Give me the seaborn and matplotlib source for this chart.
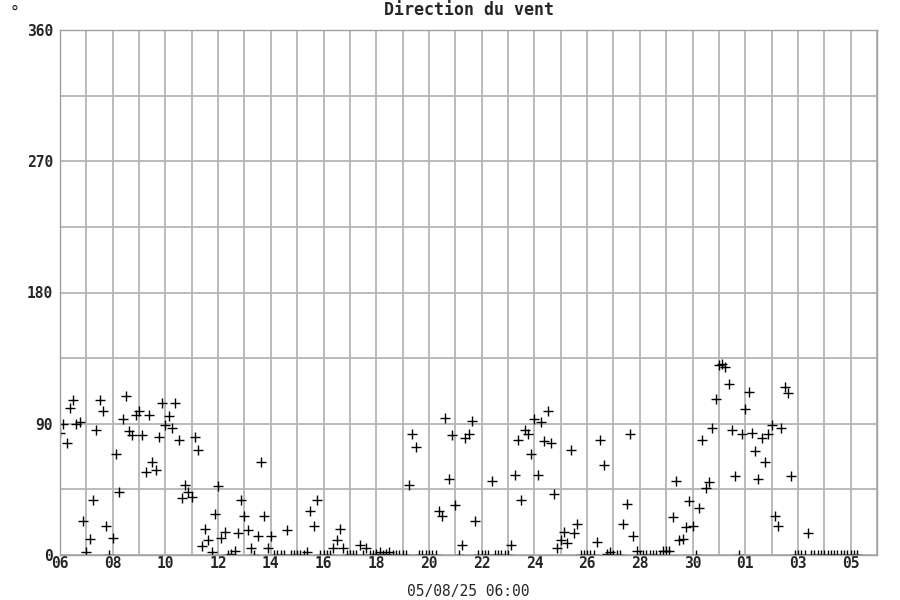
import matplotlib
matplotlib.use("Agg")
import matplotlib.pyplot as plt
import matplotlib.dates as mdates
import pandas as pd
import seaborn as sns

# wind direction (degrees), one reading every 3 hours, 06/07 00:00 -> 05/08 06:00
jul06 = [84, 90, 77, 101, 106, 90, 91, 23]
jul07 = [2, 11, 38, 86, 106, 99, 20, 0]
jul08 = [12, 69, 43, 93, 109, 85, 82, 96]
jul09 = [99, 82, 57, 96, 64, 58, 81, 104]
jul10 = [89, 95, 87, 104, 79, 39, 48, 43]
jul11 = [40, 81, 72, 6, 18, 10, 2, 28]
jul12 = [47, 12, 16, 0, 1, 3, 15, 38]
jul13 = [27, 17, 5, 0, 13, 64, 27, 5]
jul14 = [13, 0, 0, 0, 0, 17, 0, 0]
jul15 = [0, 0, 0, 2, 30, 20, 38, 0]
jul16 = [0, 0, 0, 5, 10, 18, 5, 0]
jul17 = [0, 0, 0, 7, 0, 5, 0, 0]
jul18 = [1, 2, 0, 1, 2, 0, 0, 0]
jul19 = [0, 0, 48, 83, 74, 0, 0, 0]
jul20 = [0, 0, 0, 30, 27, 94, 52, 82]
jul21 = [34, 0, 7, 80, 83, 92, 23, 0]
jul22 = [0, 0, 0, 51, 0, 0, 0, 0]
jul23 = [0, 7, 55, 79, 38, 86, 83, 69]
jul24 = [93, 55, 91, 78, 99, 77, 42, 5]
jul25 = [10, 16, 8, 72, 15, 21, 0, 0]
jul26 = [0, 0, 0, 9, 79, 62, 1, 2]
jul27 = [0, 0, 0, 21, 35, 83, 13, 3]
jul28 = [0, 0, 0, 0, 0, 0, 0, 3]
jul29 = [3, 3, 26, 51, 10, 11, 19, 37]
jul30 = [20, 0, 32, 79, 46, 50, 87, 107]
jul31 = [130, 131, 129, 117, 86, 54, 0, 83]
aug01 = [100, 112, 84, 71, 52, 80, 64, 83]
aug02 = [89, 27, 20, 87, 115, 111, 54, 0]
aug03 = [0, 0, 0, 15, 0, 0, 0, 0]
aug04 = [0, 0, 0, 0, 0, 0, 0, 0]
aug05 = [0, 0, 0]

days = [jul06, jul07, jul08, jul09, jul10, jul11, jul12, jul13, jul14, jul15,
        jul16, jul17, jul18, jul19, jul20, jul21, jul22, jul23, jul24, jul25,
        jul26, jul27, jul28, jul29, jul30, jul31, aug01, aug02, aug03, aug04, aug05]
direction = [v for d in days for v in d]
times = pd.date_range("2025-07-06 00:00", periods=len(direction), freq="3h")

df = pd.DataFrame({"time": times, "direction": direction})

sns.set_style("white")
plt.rcParams["font.family"] = ["DejaVu Sans Mono", "DejaVu Sans"]

fig = plt.figure(figsize=(9, 6), dpi=100)
ax = fig.add_axes([60 / 900, 45 / 600, 817 / 900, 525 / 600])

sns.scatterplot(data=df, x="time", y="direction", marker="+", color="black",
                s=42, linewidth=1.0, ax=ax, legend=False)

ax.set_xlim(pd.Timestamp("2025-07-06"), pd.Timestamp("2025-08-06"))
ax.set_ylim(0, 360)

ax.set_yticks([0, 90, 180, 270, 360])
ax.set_yticks(range(0, 361, 45), minor=True)
ax.set_xticks(pd.date_range("2025-07-06", "2025-08-05", freq="2D"))
ax.set_xticks(pd.date_range("2025-07-06", "2025-08-06", freq="D"), minor=True)
ax.xaxis.set_major_formatter(mdates.DateFormatter("%d"))

ax.grid(which="both", color="#b4b4b4", linewidth=1.3)
ax.set_axisbelow(True)
for sp in ax.spines.values():
    sp.set_color("#a0a0a0")
    sp.set_linewidth(1.0)

ax.tick_params(which="both", length=0, labelsize=10.5)
ax.tick_params(axis="x", pad=1)
ax.tick_params(axis="y", pad=5)
for lbl in ax.get_xticklabels() + ax.get_yticklabels():
    lbl.set_fontweight("bold")

ax.set_xlabel("05/08/25 06:00", fontsize=10.5, labelpad=9)
ax.set_ylabel("")
ax.set_title("Direction du vent", fontsize=12, fontweight="bold", pad=10.5)
fig.text(15 / 900, 1 - 4 / 600, "°", fontsize=12, ha="center", va="top")

fig.savefig("out.png", dpi=100)
